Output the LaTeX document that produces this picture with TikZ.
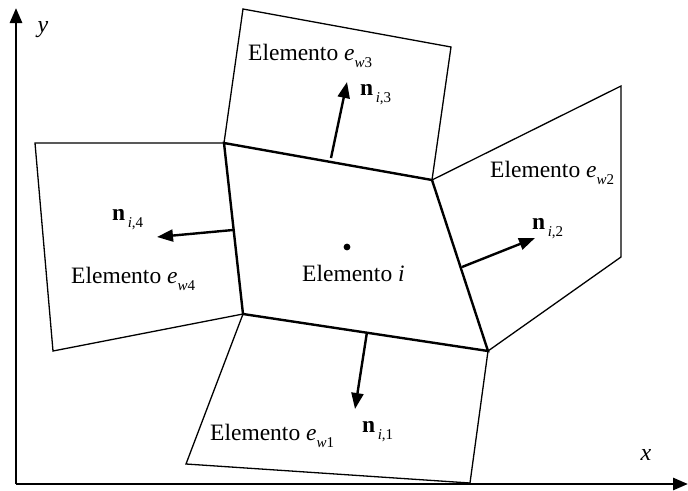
\documentclass[tikz,border=0pt]{standalone}
\usepackage{fontspec}
\setmainfont{Liberation Serif}
\usetikzlibrary{arrows.meta}
\newcommand\lsub[1]{\raisebox{-0.32em}{\fontsize{15}{15}\selectfont #1}}
\newcommand\elem[1]{Elemento \textit{e}\lsub{\textit{w}#1}}
\newcommand\nvec[1]{\textbf{n}\lsub{\,\textit{i},#1}}
\begin{document}
\begin{tikzpicture}[x=1pt,y=-1pt,
  thin edge/.style={line width=1.3pt,line join=miter},
  thick edge/.style={line width=2.4pt,line join=miter},
  axis/.style={line width=2.8pt,-{Triangle[length=15pt,width=12pt]}},
  normal/.style={line width=2.4pt,-{Triangle[length=16pt,width=12pt]}},
  lbl/.style={inner sep=0pt,anchor=base west,font=\fontsize{23.5}{23.5}\selectfont}]
\useasboundingbox (0,0) rectangle (688,490);
% corners
\coordinate (A) at (224,143);
\coordinate (B) at (432,180);
\coordinate (C) at (488,351);
\coordinate (D) at (243,314);
\coordinate (W4a) at (35,143);
\coordinate (W4b) at (53,351);
\coordinate (W3a) at (243,9);
\coordinate (W3b) at (451,47);
\coordinate (W2a) at (621,86);
\coordinate (W2b) at (621,257);
\coordinate (W1a) at (470,483);
\coordinate (W1b) at (186,464);
% axes
\coordinate (O) at (16,484);
\coordinate (Ytip) at (16,8);
\coordinate (Xtip) at (688,484);
\draw[axis] (O) -- (Ytip);
\draw[axis] (O) -- (Xtip);
\node[font=\fontsize{24}{24}\selectfont\itshape] (ylab) at (43,30) {y};
\node[font=\fontsize{24}{24}\selectfont\itshape] (xlab) at (646,455) {x};
% neighbour elements
\draw[thin edge] (A) -- (W4a) -- (W4b) -- (D);
\draw[thin edge] (A) -- (W3a) -- (W3b) -- (B);
\draw[thin edge] (B) -- (W2a) -- (W2b) -- (C);
\draw[thin edge] (D) -- (W1b) -- (W1a) -- (C);
% central element
\draw[thick edge] (A) -- (B) -- (C) -- (D) -- cycle;
\fill (347,247) circle (3.4pt);
% normals
\coordinate (n1s) at (367,332); \coordinate (n1e) at (355,409);
\coordinate (n2s) at (462,267); \coordinate (n2e) at (535,238);
\coordinate (n3s) at (331,158); \coordinate (n3e) at (347,82);
\coordinate (n4s) at (233,230); \coordinate (n4e) at (157,237);
\draw[normal] (n1s) -- (n1e);
\draw[normal] (n2s) -- (n2e);
\draw[normal] (n3s) -- (n3e);
\draw[normal] (n4s) -- (n4e);
% labels
\node[lbl] (ti) at (302,281) {Elemento \textit{i}};
\node[lbl] (t1) at (210,440) {\elem{1}};
\node[lbl] (t2) at (490,177) {\elem{2}};
\node[lbl] (t3) at (248,60) {\elem{3}};
\node[lbl] (t4) at (71,283) {\elem{4}};
\node[lbl] (l1) at (362,432) {\nvec{1}};
\node[lbl] (l2) at (532,229) {\nvec{2}};
\node[lbl] (l3) at (360,95) {\nvec{3}};
\node[lbl] (l4) at (112,220) {\nvec{4}};
\end{tikzpicture}
\end{document}
